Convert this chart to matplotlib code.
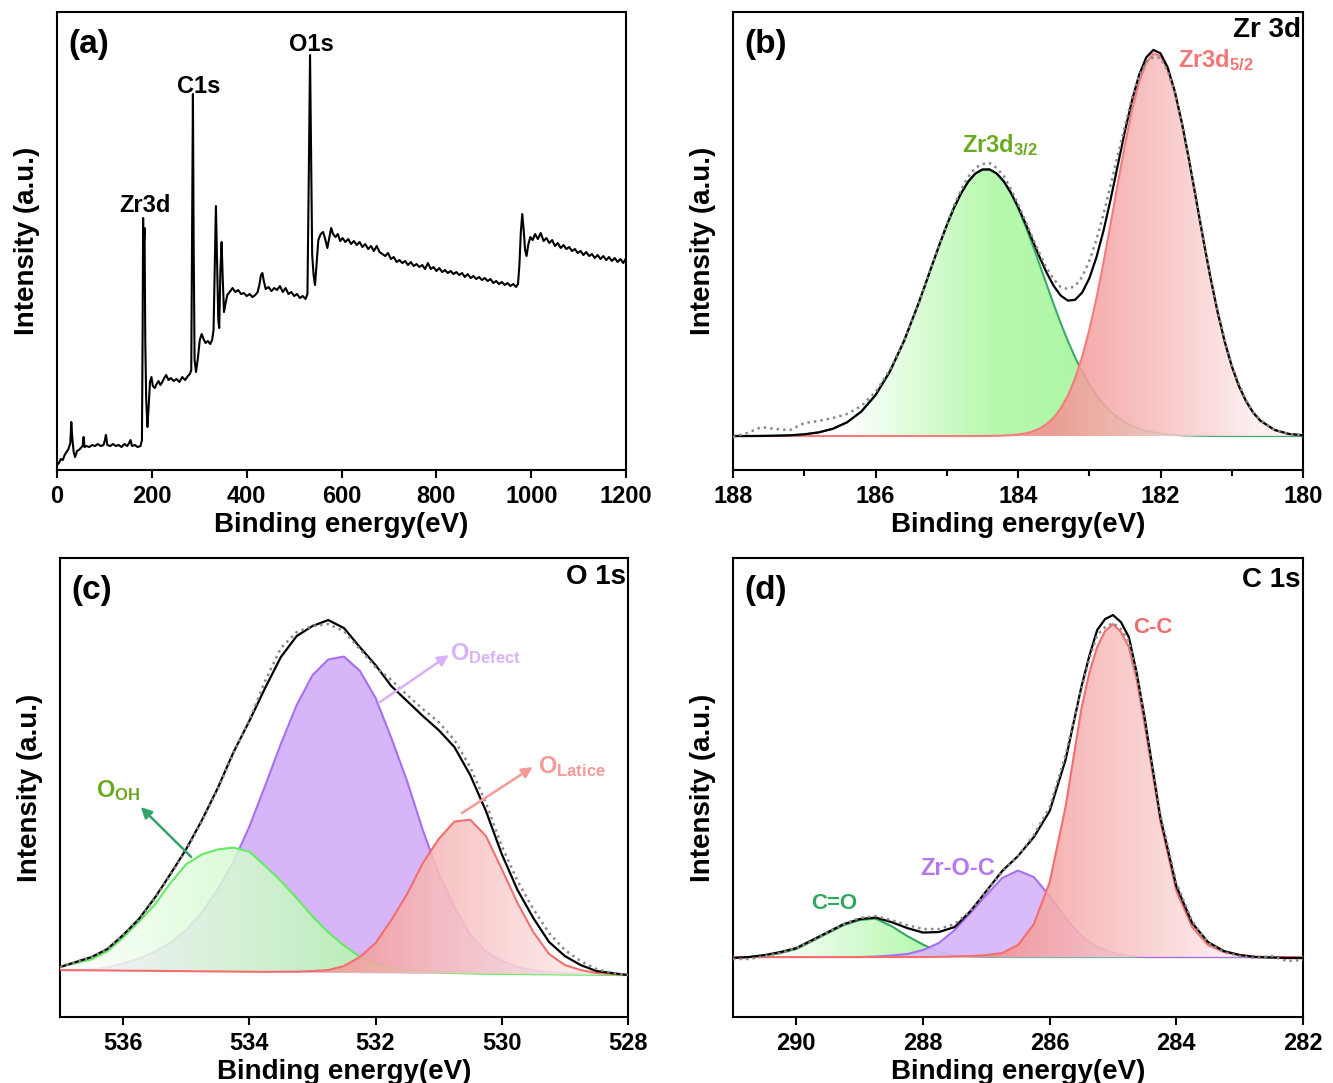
"""XPS survey and high-resolution Zr 3d / O 1s / C 1s spectra (2x2 panel figure)."""

import matplotlib
matplotlib.use("Agg")
import matplotlib.pyplot as plt
import numpy as np
from matplotlib.colors import LinearSegmentedColormap

# ---------------- (a) survey spectrum ----------------
survey_ev = [
    0, 4, 8, 12, 16, 20, 24, 28, 30, 32, 35, 38, 42, 46, 50, 54, 56, 58, 62, 68,
    74, 80, 86, 92, 98, 101, 103, 106, 112, 118, 124, 130, 136, 142, 148, 152, 155, 158, 164, 170, 176,
    179, 180.5, 181.5, 182.5, 183.5, 184.5, 186, 188, 190.5, 193, 196, 199, 202, 206, 210, 214, 218, 222, 226, 230,
    235, 240, 246, 252, 258, 264, 270, 276, 280,
    283, 284.8, 286.5, 288, 290, 293, 297, 301, 305, 309, 313, 318, 323, 327, 330,
    332.5, 335, 337.5, 340, 342, 344.5, 347, 349.5, 352, 355, 359, 364, 370, 376, 382, 388, 394, 400, 406, 412,
    418, 423, 427, 430, 433, 436, 440, 446, 452, 458, 464, 470, 476, 482, 488, 494, 500, 506, 512, 518, 524,
    528, 531, 533.5, 536, 538, 541, 544, 548, 551, 556, 561, 566, 570, 574, 578, 582,
    587, 592, 597, 602, 608, 614, 620, 626, 632, 638, 644, 650, 656, 662, 668, 674, 680, 686, 692, 698,
    704, 710, 716, 722, 728, 734, 740, 746, 752, 758, 764, 770, 776, 782, 788, 794, 800, 806, 812, 818,
    824, 830, 836, 842, 848, 854, 860, 866, 872, 878, 884, 890, 896, 902, 908, 914, 920, 926, 932, 938,
    944, 950, 956, 962, 968,
    972, 975, 978, 981, 984, 987, 990, 994, 998, 1003, 1008, 1014, 1020, 1026, 1032, 1038, 1044, 1050, 1056, 1062,
    1068, 1074, 1080, 1086, 1092, 1098, 1104, 1110, 1116, 1122, 1128, 1134, 1140, 1146, 1152, 1158, 1164, 1170,
    1176, 1182, 1188, 1194, 1200,
]
survey_counts = [
    5, 7, 11, 10, 15, 18, 21, 27, 48, 33, 18, 13, 19, 20, 22, 24, 33, 23, 24, 23,
    25, 24, 26, 24, 25, 30, 35, 25, 24, 26, 24, 25, 23, 26, 24, 27, 30, 24, 25, 23, 24,
    30, 140, 252, 205, 230, 242, 130, 70, 43, 62, 88, 93, 84, 82, 86, 89, 85, 88, 92, 95,
    90, 92, 89, 91, 88, 93, 90, 94, 96,
    100, 250, 376, 230, 110, 98, 112, 130, 136, 131, 127, 129, 126, 130, 140,
    200, 264, 205, 150, 142, 200, 228, 190, 158, 166, 175, 178, 182, 178, 180, 176, 177, 174, 176, 173,
    175, 178, 186, 195, 197, 189, 181, 183, 179, 182, 180, 184, 178, 182, 176, 178, 174, 176, 172, 174, 171,
    176, 300, 415, 300, 215, 195, 185, 210, 230, 236, 238, 230, 222, 232, 242, 236,
    233, 236, 229, 232, 228, 231, 226, 229, 225, 228, 223, 226, 221, 224, 219, 224, 218, 216, 214, 217,
    211, 213, 208, 210, 207, 209, 205, 208, 204, 206, 203, 205, 201, 207, 201, 203, 199, 202, 198, 200,
    197, 199, 196, 198, 195, 197, 193, 196, 192, 194, 191, 193, 190, 192, 189, 191, 187, 189, 186, 188,
    185, 187, 184, 186, 183,
    186, 205, 238, 256, 240, 220, 214, 226, 233, 230, 236, 231, 237, 229, 232, 227, 230, 224, 227, 222,
    225, 221, 223, 219, 221, 217, 219, 215, 218, 214, 216, 212, 215, 211, 214, 210, 213, 209,
    212, 208, 211, 207, 212,
]

# ---------------- (b) Zr 3d ----------------
zr_ev = [188.0, 187.8, 187.6, 187.4, 187.2, 187.0, 186.8, 186.6, 186.4, 186.2, 186.0, 185.8, 185.6,
         185.4, 185.3, 185.2, 185.1, 185.0, 184.9, 184.8, 184.7, 184.6, 184.5,
         184.4, 184.3, 184.2, 184.1, 184.0, 183.9, 183.8, 183.7, 183.6, 183.5,
         183.4, 183.3, 183.2, 183.1, 183.0, 182.9, 182.8, 182.7, 182.6, 182.5,
         182.4, 182.3, 182.2, 182.1, 182.0, 181.9, 181.8, 181.7, 181.6, 181.5,
         181.4, 181.3, 181.2, 181.1, 181.0, 180.9, 180.8, 180.7, 180.6,
         180.4, 180.2, 180.0]
zr_3d32 = [0, 0, 0.1, 0.3, 0.7, 1.7, 3.6, 7.2, 13.7, 24.4, 40.9, 64.3, 95.0,
           131.9, 151.8, 172.1, 191.9, 210.8, 227.9, 242.6, 254.3, 262.4, 266.5,
           266.5, 262.4, 254.3, 242.6, 227.9, 210.8, 191.9, 172.1, 151.8, 131.9,
           112.8, 95.0, 78.8, 64.3, 51.7, 40.9, 31.8, 24.4, 18.4, 13.7,
           10.0, 7.2, 5.1, 3.6, 2.5, 1.7, 1.1, 0.7, 0.5, 0.3,
           0.2, 0.1, 0.1, 0, 0, 0, 0, 0, 0,
           0, 0, 0]
zr_3d52 = [0, 0, 0, 0, 0, 0, 0, 0, 0, 0, 0, 0, 0,
           0, 0, 0, 0, 0, 0, 0, 0, 0, 0,
           0.1, 0.2, 0.5, 0.8, 1.5, 2.6, 4.5, 7.4, 11.8, 18.3,
           27.6, 40.4, 57.4, 79.1, 105.9, 137.6, 173.5, 212.3, 252.3, 291.0,
           325.7, 354.0, 373.5, 382.5, 380.2, 366.9, 343.7, 312.5, 275.8, 236.3,
           196.5, 158.7, 124.4, 94.6, 69.8, 50.1, 34.9, 23.5, 15.4,
           6.1, 2.1, 0.7]
zr_fit = [0, 0, 0.1, 0.3, 0.7, 1.7, 3.6, 7.2, 13.7, 24.4, 40.9, 64.3, 95.0,
          131.9, 151.8, 172.1, 191.9, 210.8, 227.9, 242.6, 254.3, 262.4, 266.5,
          266.6, 262.6, 254.8, 243.4, 229.4, 213.4, 196.4, 179.5, 163.6, 150.2,
          140.4, 135.4, 136.2, 143.4, 157.6, 178.5, 205.3, 236.7, 270.7, 304.7,
          335.7, 361.2, 378.6, 386.1, 382.7, 368.6, 344.8, 313.2, 276.3, 236.6,
          196.7, 158.8, 124.5, 94.6, 69.8, 50.1, 34.9, 23.5, 15.4,
          6.1, 2.1, 0.7]
zr_raw = [-1, 3, 9, 7, 6, 13, 15, 18, 22, 30, 44, 66, 95,
          131, 152, 172, 192, 212, 230, 246, 259, 268, 272,
          273, 268, 260, 247, 232, 216, 199, 183, 168, 157,
          149, 147, 150, 159, 175, 196, 222, 251, 281, 310,
          338, 360, 374, 379, 378, 365, 344, 313, 277, 238,
          198, 160, 126, 96, 71, 52, 36, 24, 16,
          6, 2, 1]
ZR_BASE = 0

# ---------------- (c) O 1s ----------------
o_ev = [537.0, 536.75, 536.5, 536.25, 536.0, 535.75, 535.5, 535.25, 535.0, 534.75,
        534.5, 534.25, 534.0, 533.75, 533.5, 533.25, 533.0, 532.75, 532.5, 532.25,
        532.0, 531.75, 531.5, 531.25, 531.0, 530.75, 530.5, 530.25, 530.0, 529.75,
        529.5, 529.25, 529.0, 528.75, 528.5, 528.25, 528.0]
o_bg = [47.0, 46.9, 46.7, 46.6, 46.4, 46.3, 46.2, 46.0, 45.9, 45.7,
        45.6, 45.5, 45.3, 45.2, 45.1, 44.9, 44.8, 44.6, 44.5, 44.4,
        44.2, 44.1, 43.9, 43.8, 43.7, 43.5, 43.4, 43.2, 43.1, 43.0,
        42.8, 42.7, 42.5, 42.4, 42.3, 42.1, 42.0]
o_oh = [3, 7, 11, 19, 33, 49, 66, 88, 107, 117,
        122, 124, 120, 106, 91, 74, 56, 40, 27, 16,
        9, 5, 3, 2, 1, 0.5, 0.3, 0, 0, 0,
        0, 0, 0, 0, 0, 0, 0]
o_defect = [0, 0, 1, 3, 7, 12, 19, 28, 41, 59,
            82, 110, 145, 186, 228, 267, 297, 313, 316, 302,
            275, 235, 192, 143, 100, 66, 39, 22, 13, 7,
            4, 2, 1.5, 1, 0.5, 0, 0]
o_lattice = [0, 0, 0, 0, 0, 0, 0, 0, 0, 0,
             0, 0, 0, 0, 0.2, 0.5, 1.2, 2.4, 6.5, 15.6,
             29.8, 52.9, 79.1, 110.2, 134.3, 152, 154, 137.8, 104.9, 71,
             42.2, 20.3, 9.5, 4.6, 1.7, 0.9, 0]
o_fit = [50, 55, 60, 68, 82, 98, 119, 143, 168, 197,
         229, 265, 296, 329, 360, 381, 391, 397, 389, 370,
         352, 331, 316, 301, 287, 270, 242, 206, 163, 127,
         99, 75, 61, 52, 46, 44, 42]
o_raw = [50, 55, 60, 68, 82, 97, 118, 142, 167, 196,
         228, 264, 297, 336, 369, 385, 391, 393, 386, 368,
         350, 337, 322, 308, 295, 277, 250, 214, 171, 136,
         108, 84, 67, 56, 48, 44, 42]

# ---------------- (d) C 1s ----------------
c_ev = [291.0, 290.75, 290.5, 290.25, 290.0, 289.75, 289.5, 289.25, 289.0, 288.75,
        288.5, 288.25, 288.0, 287.75, 287.5, 287.25, 287.0, 286.75, 286.5, 286.25,
        286.0, 285.75, 285.5, 285.375, 285.25, 285.125, 285.0, 284.875, 284.75, 284.625,
        284.5, 284.25, 284.0, 283.75, 283.5, 283.25, 283.0, 282.75, 282.5, 282.25, 282.0]
c_co = [0, 0, 1.5, 4, 8, 16, 24, 32, 37, 38.5,
        31, 21, 12.5, 5, 1.5, 0.5, 0, 0, 0, 0,
        0, 0, 0, 0, 0, 0, 0, 0, 0, 0,
        0, 0, 0, 0, 0, 0, 0, 0, 0, 0, 0]
c_zroc = [0, 0, 0, 0, 0, 0, 0, 0, 0, 0.5,
          1.5, 3, 7, 14, 27, 44, 62, 79, 86.5, 80,
          61, 39, 21, 15, 10, 7, 4, 2.5, 1, 0.5,
          0, 0, 0, 0, 0, 0, 0, 0, 0, 0, 0]
c_cc = [0, 0, 0, 0, 0, 0, 0, 0, 0, 0,
        0, 0, 0, 0.2, 0.5, 1, 2, 4, 12, 33,
        75, 150, 248, 284, 310, 326, 333, 325, 310, 277,
        232, 135, 66, 30, 12, 5, 2, 0.5, 0, 0, 0]
c_fit = [59, 60, 62, 65, 69, 77, 85, 93, 98, 99.5,
         95, 89, 84.5, 85, 90, 106, 126, 146, 161, 180,
         206, 257, 330, 361, 387, 398, 402, 395, 380, 344,
         299, 199, 131, 94, 75, 66, 62, 60, 59.5, 59, 59]
c_raw = [58, 58, 61, 64, 69, 76, 85, 93, 99, 101,
         97, 92, 88, 88, 93, 106, 126, 145, 161, 182,
         210, 262, 328, 358, 382, 390, 394, 388, 376, 342,
         300, 202, 134, 96, 74, 65, 61, 59, 61, 56, 57]
C_BASE = 60

GREEN_GRAD = ["#FFFFFF", "#A8F79F"]
GREEN_GRAD_ZR = ["#FFFFFF", "#B8F9AF", "#A9F5A1"]
RED_GRAD = ["#F39191", "#FDF0F0"]
RED_GRAD_ZR = ["#F39191", "#F8BDBD", "#FDF0F0"]
PURPLE_FILL = "#D7B5F9"
PURPLE_LINE = "#A86EF2"
RED_LINE = "#F46E6E"
RAW_COLOR = "#8A8A8A"

plt.rcParams.update({
    "font.family": ["Liberation Sans", "DejaVu Sans"],
    "font.weight": "bold",
    "axes.labelweight": "bold",
    "mathtext.fontset": "custom",
    "mathtext.rm": "Liberation Sans:bold",
    "mathtext.bf": "Liberation Sans:bold",
    "mathtext.it": "Liberation Sans:bold:italic",
    "axes.linewidth": 1.5,
    "xtick.direction": "out",
    "xtick.major.size": 6,
    "xtick.major.width": 1.5,
    "xtick.minor.size": 4,
    "xtick.minor.width": 1.5,
    "xtick.labelsize": 17,
    "xtick.major.pad": 5,
    "lines.solid_joinstyle": "round",
})


def gradient_fill(ax, x, base, top, colors, zorder, alpha=1.0, min_height=1.0):
    """Fill between base and top with a left-to-right colour ramp (screen direction)."""
    x = np.asarray(x, dtype=float)
    base = np.broadcast_to(np.asarray(base, dtype=float), x.shape)
    top = np.asarray(top, dtype=float)
    poly = ax.fill_between(x, base, top, facecolor="none", edgecolor="none", zorder=zorder)
    shown = x[(top - base) > min_height]
    ramp_start, ramp_end = shown.max(), shown.min()
    cols = np.linspace(x.max(), x.min(), 512)
    ramp = np.clip((ramp_start - cols) / (ramp_start - ramp_end), 0, 1)[np.newaxis, :]
    cmap = LinearSegmentedColormap.from_list("grad", colors)
    img = ax.imshow(ramp, cmap=cmap, vmin=0, vmax=1, aspect="auto",
                    extent=(x.max(), x.min(), base.min(), top.max()),
                    origin="lower", interpolation="bilinear", zorder=zorder, alpha=alpha)
    img.set_clip_path(poly.get_paths()[0], transform=ax.transData)


def finish_axes(ax, xlim, ylim, xticks, minor=None):
    ax.set_xlim(*xlim)
    ax.set_ylim(*ylim)
    ax.set_xticks(xticks)
    if minor is not None:
        ax.set_xticks(minor, minor=True)
    ax.set_yticks([])
    ax.set_xlabel("Binding energy(eV)", fontsize=20, fontweight="bold", labelpad=3)
    ax.set_ylabel("Intensity (a.u.)", fontsize=20, fontweight="bold", labelpad=12)


def corner_labels(ax, letter, title=None, title_y=0.958):
    ax.text(0.02, 0.93, letter, transform=ax.transAxes, fontsize=24,
            fontweight="bold", ha="left", va="center")
    if title:
        ax.text(0.996, title_y, title, transform=ax.transAxes, fontsize=20,
                fontweight="bold", ha="right", va="center")


fig = plt.figure(figsize=(13.33, 10.83), dpi=100)
ax_a = fig.add_axes([0.0428, 0.5660, 0.4269, 0.4229])
ax_b = fig.add_axes([0.5499, 0.5660, 0.4276, 0.4229])
ax_c = fig.add_axes([0.0450, 0.0609, 0.4261, 0.4238])
ax_d = fig.add_axes([0.5499, 0.0609, 0.4276, 0.4238])

# (a) survey
ax_a.plot(survey_ev, survey_counts, color="black", lw=1.5)
for txt, xe, yh in [("Zr3d", 185.6, 258), ("C1s", 298.5, 377), ("O1s", 537, 419)]:
    ax_a.text(xe, yh, txt, fontsize=17, fontweight="bold", ha="center", va="baseline")
finish_axes(ax_a, (0, 1200), (0, 458), range(0, 1201, 200))
corner_labels(ax_a, "(a)")

# (b) Zr 3d
zr_top32 = np.add(ZR_BASE, zr_3d32)
zr_top52 = np.add(ZR_BASE, zr_3d52)
gradient_fill(ax_b, zr_ev, ZR_BASE, zr_top32, GREEN_GRAD_ZR, zorder=2, min_height=8)
ax_b.plot(zr_ev, zr_top32, color="#3DAA6A", lw=1.5, zorder=3)
gradient_fill(ax_b, zr_ev, ZR_BASE, zr_top52, RED_GRAD_ZR, zorder=4, alpha=0.88, min_height=8)
ax_b.plot(zr_ev, zr_top52, color="#F47C7C", lw=1.5, zorder=5)
ax_b.plot(zr_ev, zr_fit, color="black", lw=1.6, zorder=6)
ax_b.plot(zr_ev, zr_raw, color=RAW_COLOR, lw=1.8, ls=(0, (1, 1.6)), zorder=7)
ax_b.text(184.79, 284, r"Zr3d$_{\mathbf{3/2}}$", color="#6AAA1E", fontsize=17,
          fontweight="bold", ha="left", va="baseline")
ax_b.text(181.75, 369, r"Zr3d$_{\mathbf{5/2}}$", color="#F47575", fontsize=17,
          fontweight="bold", ha="left", va="baseline")
finish_axes(ax_b, (188, 180), (-34, 424), range(188, 179, -2), minor=range(187, 180, -2))
corner_labels(ax_b, "(b)", "Zr 3d", title_y=0.961)

# (c) O 1s
o_top_def = np.add(o_bg, o_defect)
o_top_oh = np.add(o_bg, o_oh)
o_top_lat = np.add(o_bg, o_lattice)
ax_c.fill_between(o_ev, o_bg, o_top_def, color=PURPLE_FILL, lw=0, zorder=2)
ax_c.plot(o_ev, o_top_def, color=PURPLE_LINE, lw=1.5, zorder=2.5)
gradient_fill(ax_c, o_ev, o_bg, o_top_oh, GREEN_GRAD, zorder=3, alpha=0.85)
ax_c.plot(o_ev, o_top_oh, color="#62EC62", lw=1.5, zorder=3.5)
gradient_fill(ax_c, o_ev, o_bg, o_top_lat, RED_GRAD, zorder=4, alpha=0.88)
ax_c.plot(o_ev, o_top_lat, color=RED_LINE, lw=1.5, zorder=4.5)
ax_c.plot(o_ev, o_fit, color="black", lw=1.6, zorder=6)
ax_c.plot(o_ev, o_raw, color=RAW_COLOR, lw=1.8, ls=(0, (1, 1.6)), zorder=7)

arrow = dict(arrowstyle="-|>", lw=1.8, mutation_scale=16, shrinkA=0, shrinkB=0)
ax_c.annotate("", xy=(535.72, 210), xytext=(534.92, 160),
              arrowprops=dict(arrow, color="#36A36C"), zorder=8)
ax_c.annotate("", xy=(530.84, 362), xytext=(531.93, 315),
              arrowprops=dict(arrow, color="#D8B2F8"), zorder=8)
ax_c.annotate("", xy=(529.51, 250), xytext=(530.63, 204),
              arrowprops=dict(arrow, color="#F59A96"), zorder=8)
ax_c.text(536.43, 220, r"O$_{\mathbf{OH}}$", color="#6AA81E", fontsize=17,
          fontweight="bold", ha="left", va="baseline")
ax_c.text(530.82, 357, r"O$_{\mathbf{Defect}}$", color="#D8B2F8", fontsize=17,
          fontweight="bold", ha="left", va="baseline")
ax_c.text(529.42, 244, r"O$_{\mathbf{Latice}}$", color="#F59A96", fontsize=17,
          fontweight="bold", ha="left", va="baseline")
finish_axes(ax_c, (537, 528), (0, 459), range(536, 527, -2))
corner_labels(ax_c, "(c)", "O 1s", title_y=0.959)

# (d) C 1s
c_top_co = np.add(C_BASE, c_co)
c_top_zroc = np.add(C_BASE, c_zroc)
c_top_cc = np.add(C_BASE, c_cc)
gradient_fill(ax_d, c_ev, C_BASE, c_top_co, GREEN_GRAD, zorder=2)
ax_d.plot(c_ev, c_top_co, color="#33A862", lw=1.5, zorder=2.5)
ax_d.fill_between(c_ev, C_BASE, c_top_zroc, color=PURPLE_FILL, alpha=0.92, lw=0, zorder=3)
ax_d.plot(c_ev, c_top_zroc, color=PURPLE_LINE, lw=1.5, zorder=3.5)
gradient_fill(ax_d, c_ev, C_BASE, c_top_cc, RED_GRAD, zorder=4, alpha=0.88)
ax_d.plot(c_ev, c_top_cc, color=RED_LINE, lw=1.5, zorder=4.5)
ax_d.plot(c_ev, c_fit, color="black", lw=1.6, zorder=6)
ax_d.plot(c_ev, c_raw, color=RAW_COLOR, lw=1.8, ls=(0, (1, 1.6)), zorder=7)
ax_d.text(284.68, 384, "C-C", color="#F26B6B", fontsize=16, fontweight="bold",
          ha="left", va="baseline")
ax_d.text(288.05, 142, "Zr-O-C", color="#B477F2", fontsize=17, fontweight="bold",
          ha="left", va="baseline")
ax_d.text(289.77, 108, "C=O", color="#2EAA5E", fontsize=16, fontweight="bold",
          ha="left", va="baseline")
finish_axes(ax_d, (291, 282), (0, 459), range(290, 281, -2))
corner_labels(ax_d, "(d)", "C 1s", title_y=0.952)

fig.savefig("out.png", dpi=100)
